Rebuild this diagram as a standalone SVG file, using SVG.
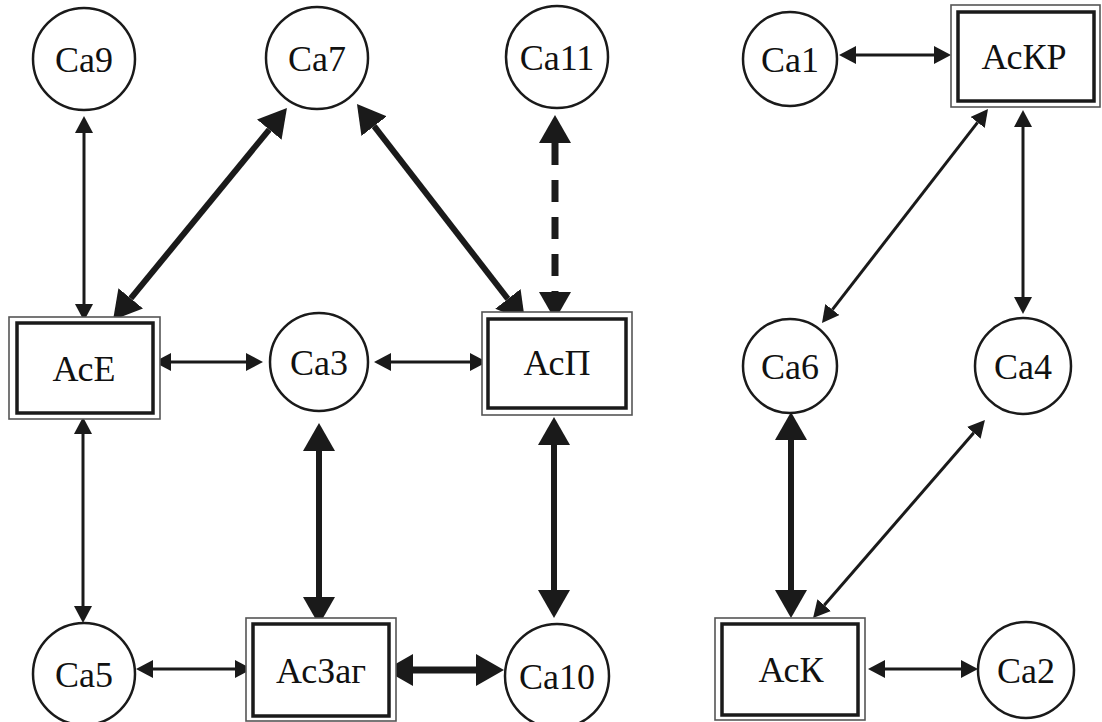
<svg xmlns="http://www.w3.org/2000/svg" width="1102" height="722" viewBox="0 0 1102 722">
  <style>
    .bg { fill: #ffffff; }
    .circ { fill: #ffffff; stroke: #1a1a1a; stroke-width: 2.5; }
    .outer { fill: #ffffff; stroke: #555555; stroke-width: 1.6; }
    .inner { fill: none; stroke: #1a1a1a; stroke-width: 3.5; }
    .lbl { font-family: "Liberation Serif", "Times New Roman", serif; font-size: 36px; fill: #111111; text-anchor: middle; }
    .thin { stroke: #1a1a1a; stroke-width: 3; fill: none; marker-start: url(#headS); marker-end: url(#headS); }
    .thick { stroke: #1a1a1a; stroke-width: 6; fill: none; marker-start: url(#headL); marker-end: url(#headL); }
    .dash { stroke-dasharray: 22 15; }
  </style>
  <defs>
    <!-- small arrowhead: base at the line end, tip 17px beyond -->
    <marker id="headS" markerUnits="userSpaceOnUse" viewBox="0 0 17 18" refX="0" refY="9" markerWidth="17" markerHeight="18" orient="auto-start-reverse">
      <path d="M0,0 L17,9 L0,18 Z" fill="#1a1a1a"/>
    </marker>
    <!-- large arrowhead: base at the line end, tip 28px beyond -->
    <marker id="headL" markerUnits="userSpaceOnUse" viewBox="0 0 28 32" refX="0" refY="16" markerWidth="28" markerHeight="32" orient="auto-start-reverse">
      <path d="M0,0 L28,16 L0,32 Z" fill="#1a1a1a"/>
    </marker>
  </defs>

  <rect class="bg" x="0" y="0" width="1102" height="722"/>

  <!-- connectors -->
  <g id="connectors">
    <line class="thin" x1="84" y1="133" x2="84" y2="304"/>
    <line class="thin" x1="171" y1="362" x2="246" y2="362"/>
    <line class="thin" x1="391" y1="362" x2="470" y2="362"/>
    <line class="thin" x1="83" y1="434" x2="83" y2="606"/>
    <line class="thin" x1="153" y1="669" x2="235" y2="669"/>
    <line class="thick" x1="319" y1="451" x2="319" y2="597"/>
    <line class="thick" x1="554" y1="445" x2="554" y2="590"/>
    <line class="thick" x1="413" y1="670" x2="476" y2="670" style="stroke-width:7"/>
    <line class="thick dash" x1="555" y1="143" x2="555" y2="292" style="stroke-width:7"/>
    <line class="thick" x1="269.2" y1="129.6" x2="130.8" y2="298.4"/>
    <line class="thick" x1="374.1" y1="126.1" x2="507.9" y2="298.9"/>
    <line class="thin" x1="856" y1="55" x2="934" y2="55"/>
    <line class="thin" x1="977.6" y1="122.4" x2="832.4" y2="309.6"/>
    <line class="thin" x1="1023" y1="127" x2="1023" y2="297"/>
    <line class="thick" x1="791" y1="440" x2="791" y2="590"/>
    <line class="thin" x1="973.8" y1="432.8" x2="824.2" y2="605.2"/>
    <line class="thin" x1="885" y1="669" x2="961" y2="669"/>
  </g>

  <!-- circle nodes -->
  <g id="ca9"><circle class="circ" cx="84" cy="59" r="51"/><text class="lbl" x="84" y="72">Са9</text></g>
  <g id="ca7"><circle class="circ" cx="317" cy="58" r="51"/><text class="lbl" x="317" y="71">Са7</text></g>
  <g id="ca11"><circle class="circ" cx="557" cy="57" r="51"/><text class="lbl" x="557" y="70">Са11</text></g>
  <g id="ca3"><circle class="circ" cx="319" cy="362" r="49"/><text class="lbl" x="319" y="375">Са3</text></g>
  <g id="ca5"><circle class="circ" cx="84" cy="674" r="51"/><text class="lbl" x="84" y="687">Са5</text></g>
  <g id="ca10"><circle class="circ" cx="557" cy="676" r="52"/><text class="lbl" x="557" y="689">Са10</text></g>
  <g id="ca1"><circle class="circ" cx="790" cy="59" r="47"/><text class="lbl" x="790" y="72">Са1</text></g>
  <g id="ca6"><circle class="circ" cx="790" cy="366" r="47"/><text class="lbl" x="790" y="379">Са6</text></g>
  <g id="ca4"><circle class="circ" cx="1023" cy="366" r="48"/><text class="lbl" x="1023" y="379">Са4</text></g>
  <g id="ca2"><circle class="circ" cx="1026" cy="670" r="48"/><text class="lbl" x="1026" y="683">Са2</text></g>

  <!-- double-framed nodes -->
  <g id="ace">
    <rect class="outer" x="9" y="317" width="151" height="102"/>
    <rect class="inner" x="17" y="323" width="136" height="90"/>
    <text class="lbl" x="84" y="381">АсЕ</text>
  </g>
  <g id="acp">
    <rect class="outer" x="482" y="312" width="150" height="103"/>
    <rect class="inner" x="488" y="319" width="138" height="89"/>
    <text class="lbl" x="557" y="375">АсП</text>
  </g>
  <g id="aczag">
    <rect class="outer" x="246" y="618" width="150" height="103"/>
    <rect class="inner" x="253" y="624" width="136" height="92"/>
    <text class="lbl" x="321" y="683">АсЗаг</text>
  </g>
  <g id="ack">
    <rect class="outer" x="715" y="618" width="150" height="102"/>
    <rect class="inner" x="722" y="624" width="136" height="91"/>
    <text class="lbl" x="791" y="682">АсК</text>
  </g>
  <g id="ackr">
    <rect class="outer" x="951" y="5" width="149" height="102"/>
    <rect class="inner" x="958" y="12" width="136" height="89"/>
    <text class="lbl" x="1024" y="69">АсКР</text>
  </g>
</svg>
